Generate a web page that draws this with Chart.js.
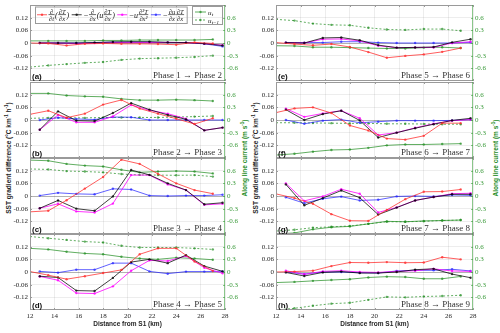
<!DOCTYPE html>
<html>
<head>
<meta charset="utf-8">
<script src="https://cdn.jsdelivr.net/npm/chart.js@4/dist/chart.umd.min.js"></script>
<style>
body { margin: 0; background: #fff; width: 500px; height: 333px; position: relative; overflow: hidden; }
canvas { position: absolute; }
.yt { position: absolute; font: bold 6.5px "Liberation Sans", Arial, sans-serif; white-space: nowrap; transform: translate(-50%, -50%) rotate(-90deg); color: #262626; }
.yt.g { color: #1e8c1e; }
.yt sup { font-size: 4.5px; }
</style>
</head>
<body>
<div class="yt" style="left:8px;top:158px">SST gradient difference (°C km<sup>-1</sup> h<sup>-1</sup>)</div>
<div class="yt g" style="left:244px;top:158px">Along line current (m s<sup>-1</sup>)</div>
<div class="yt" style="left:255px;top:158px">SST gradient difference (°C km<sup>-1</sup> h<sup>-1</sup>)</div>
<div class="yt g" style="left:495px;top:158px">Along line current (m s<sup>-1</sup>)</div>
<script>
// x positions (km) of the two sample grids
const xOuter = [12, 13.5, 15, 16.5, 18, 19.5, 21, 22.5, 24, 25.5, 27];
const xInner = [12.8, 14.3, 15.8, 17.3, 18.8, 20.3, 21.8, 23.3, 24.8, 26.3, 27.8];

const xTicks = [12, 14, 16, 18, 20, 22, 24, 26, 28];
const leftTicks = [-0.12, -0.06, 0, 0.06, 0.12];
const rightTicks = [-0.6, -0.3, 0, 0.3, 0.6];

const panelTags = ['(a)', '(b)', '(c)', '(d)', '(e)', '(f)', '(g)', '(h)'];
const phaseText = ['Phase 1 → Phase 2', 'Phase 2 → Phase 3', 'Phase 3 → Phase 4', 'Phase 4 → Phase 5',
                   'Phase 5 → Phase 6', 'Phase 6 → Phase 7', 'Phase 7 → Phase 8', 'Phase 8 → Phase 9'];

// d/dt(dT/dx)  (red, on xOuter)
const termTime = [
  [0, -0.002, -0.012, -0.004, -0.002, -0.004, -0.004, -0.005, -0.008, 0.003, -0.002],
  [0.027, 0.044, 0.011, 0.03, 0.073, 0.095, 0.054, 0.03, 0.006, -0.019, 0.008],
  [-0.075, -0.07, -0.02, 0.035, 0.09, 0.172, 0.152, 0.105, 0.06, 0.028, 0.011],
  [0.002, -0.015, -0.034, -0.02, -0.005, 0.01, 0.084, 0.112, 0.112, 0.05, 0.005],
  [0.002, -0.005, -0.011, -0.005, -0.019, -0.043, -0.07, -0.061, -0.054, -0.042, -0.024],
  [0.035, 0.055, 0.06, 0.033, -0.026, -0.05, -0.088, -0.093, -0.075, -0.015, -0.015],
  [0.01, -0.01, -0.037, -0.086, -0.117, -0.118, -0.066, -0.015, 0.02, 0.021, 0.031],
  [0, 0.002, 0.006, 0.028, 0.045, 0.044, 0.047, 0.044, 0.045, 0.07, 0.06]
];
// -d/dx(u dT/dx)  (black, on xInner)
const termAdv = [
  [0, 0, 0, 0.002, 0.005, 0.006, 0.006, 0.003, 0.002, -0.003, -0.012],
  [-0.046, 0.041, -0.003, -0.005, 0.033, 0.08, 0.049, 0.024, 0.003, -0.049, -0.036],
  [-0.058, -0.021, -0.06, -0.07, -0.002, 0.123, 0.1, 0.06, 0.028, -0.039, -0.032],
  [-0.02, -0.026, -0.088, -0.09, -0.028, 0.047, 0.06, 0.042, 0.08, 0.028, 0.003],
  [0.002, 0, 0.024, 0.026, 0.013, -0.01, -0.022, -0.021, -0.019, 0.003, 0.018],
  [0.049, 0, 0.028, 0.044, -0.002, -0.083, -0.06, -0.039, -0.02, -0.002, 0.008],
  [0.055, -0.044, -0.01, 0.026, -0.008, -0.088, -0.055, -0.021, -0.005, 0.008, 0.008],
  [-0.002, -0.019, -0.002, 0.002, -0.005, -0.005, 0, 0.011, 0.015, -0.01, -0.027]
];
// -u d2T/dx2  (magenta, on xInner)
const termU = [
  [0, 0, -0.003, 0, 0.002, 0.003, 0.002, 0.003, 0.002, -0.003, -0.01],
  [-0.046, 0.024, -0.011, -0.011, 0.017, 0.071, 0.046, 0.03, 0.006, -0.049, -0.036],
  [-0.058, -0.037, -0.073, -0.078, -0.036, 0.099, 0.099, 0.055, 0.028, -0.042, -0.037],
  [-0.021, -0.039, -0.1, -0.102, -0.068, 0.006, 0.055, 0.052, 0.076, 0.02, -0.006],
  [0.002, 0, 0.018, 0.019, 0.01, -0.013, -0.022, -0.021, -0.021, 0, 0.006],
  [0.054, 0.015, 0.031, 0.044, 0.008, -0.071, -0.06, -0.037, -0.018, -0.003, 0.002],
  [0.06, -0.023, -0.002, 0.032, 0.011, -0.078, -0.054, -0.021, -0.005, 0.011, 0.013],
  [0.006, -0.011, 0.003, 0.006, 0, -0.002, 0.003, 0.006, 0.015, 0.005, 0.003]
];
// -du/dx dT/dx  (blue, on xInner)
const termDiv = [
  [0, 0, 0, 0.002, 0.004, 0.004, 0.004, 0.002, 0.002, -0.004, -0.016],
  [0, 0.011, 0.005, 0.002, 0.014, 0.013, 0, 0, 0, 0, 0],
  [0.002, 0.015, 0.01, 0.008, 0.034, 0.031, 0.002, 0, 0.002, 0.002, 0.006],
  [0.003, -0.003, 0.011, 0.011, 0.042, 0.042, 0.003, -0.008, 0.002, 0.002, 0.003],
  [0.002, 0.002, 0.002, 0.006, 0.006, 0.002, 0, 0, 0, 0, 0.003],
  [0, -0.018, -0.003, 0.002, -0.013, -0.008, -0.003, -0.003, -0.003, -0.002, 0.002],
  [-0.006, -0.034, -0.013, -0.003, -0.021, -0.018, -0.002, 0, -0.002, 0.005, 0.003],
  [0, -0.01, 0, 0, -0.003, -0.005, 0.005, 0.008, 0.008, 0.013, 0.005]
];
// u_t and u_{t-1} (m/s, right axis, on xOuter)
const uNow = [
  [0.05, 0.05, 0.05, 0.05, 0.06, 0.06, 0.07, 0.07, 0.07, 0.07, 0.085],
  [0.63, 0.63, 0.58, 0.56, 0.55, 0.5, 0.47, 0.47, 0.48, 0.47, 0.45],
  [0.85, 0.835, 0.76, 0.72, 0.7, 0.62, 0.56, 0.58, 0.59, 0.58, 0.535],
  [0.56, 0.535, 0.48, 0.44, 0.42, 0.36, 0.32, 0.3, 0.34, 0.32, 0.29],
  [-0.065, -0.07, -0.1, -0.1, -0.11, -0.12, -0.13, -0.13, -0.11, -0.1, -0.12],
  [-0.83, -0.8, -0.75, -0.71, -0.7, -0.66, -0.6, -0.58, -0.58, -0.57, -0.56],
  [-0.9, -0.875, -0.79, -0.74, -0.72, -0.66, -0.6, -0.61, -0.59, -0.58, -0.57],
  [-0.25, -0.235, -0.21, -0.19, -0.17, -0.13, -0.11, -0.12, -0.16, -0.16, -0.105]
];
const uPrev = [
  [-0.57, -0.53, -0.5, -0.47, -0.45, -0.4, -0.37, -0.36, -0.35, -0.33, -0.3],
  [0.04, 0.05, 0.05, 0.05, 0.06, 0.06, 0.06, 0.06, 0.07, 0.08, 0.095],
  [0.64, 0.63, 0.59, 0.58, 0.56, 0.52, 0.5, 0.495, 0.49, 0.495, 0.46],
  [0.84, 0.8, 0.76, 0.72, 0.7, 0.62, 0.58, 0.58, 0.58, 0.56, 0.535],
  [0.56, 0.53, 0.46, 0.43, 0.42, 0.36, 0.32, 0.31, 0.33, 0.33, 0.29],
  [-0.065, -0.065, -0.07, -0.075, -0.08, -0.08, -0.09, -0.09, -0.095, -0.1, -0.1],
  [-0.83, -0.8, -0.75, -0.73, -0.71, -0.66, -0.61, -0.61, -0.6, -0.58, -0.57],
  [-0.9, -0.86, -0.8, -0.75, -0.73, -0.66, -0.59, -0.6, -0.58, -0.57, -0.55]
];

const RED = 'rgba(255,40,40,0.75)';
const BLACK = 'rgba(0,0,0,0.75)';
const MAG = 'rgba(255,0,255,0.8)';
const BLUE = 'rgba(30,30,255,0.7)';
const GREEN = 'rgba(30,140,30,0.7)';
const SERIF = '"Liberation Serif", "Times New Roman", serif';
const SANS = '"Liberation Sans", Arial, sans-serif';

const cols = [{left: 0, width: 250, axL: 30, axR: 25}, {left: 250, width: 250, axL: 26, axR: 27}];
const rowTops = [5, 82, 158, 234];
const plotH = 76;
const pad = 6;
const xAxisH = 18;

function series(xs, ys, color, axis, dash) {
  return {
    data: xs.map((x, k) => ({x: x, y: ys[k]})),
    borderColor: color, backgroundColor: color,
    borderWidth: 1, borderDash: dash || [],
    pointRadius: 1.2, pointBorderWidth: 0, pointHoverRadius: 0,
    yAxisID: axis, tension: 0
  };
}

// little fraction typesetter for the legend
function drawExpr(ctx, tokens, x, y) {
  let cx = x;
  ctx.textBaseline = 'alphabetic';
  for (const t of tokens) {
    if (Array.isArray(t)) {
      ctx.font = 'italic 6.5px ' + SERIF;
      const w = Math.max(ctx.measureText(t[0]).width, ctx.measureText(t[1]).width) + 1;
      ctx.textAlign = 'center';
      ctx.fillText(t[0], cx + w / 2, y - 1.2);
      ctx.fillText(t[1], cx + w / 2, y + 5.8);
      ctx.fillRect(cx, y - 0.3, w, 0.6);
      cx += w + 0.6;
    } else {
      ctx.font = 'italic 8px ' + SERIF;
      ctx.textAlign = 'left';
      ctx.fillText(t, cx, y + 2.8);
      cx += ctx.measureText(t).width + 0.4;
    }
  }
  return cx - x;
}

function sample(ctx, x, y, len, color, dash) {
  ctx.strokeStyle = color; ctx.fillStyle = color; ctx.lineWidth = 1;
  ctx.setLineDash(dash || []);
  ctx.beginPath(); ctx.moveTo(x, y); ctx.lineTo(x + len, y); ctx.stroke();
  ctx.setLineDash([]);
  ctx.beginPath(); ctx.arc(x + len / 2, y, 1.2, 0, Math.PI * 2); ctx.fill();
}

const legendTerms = [
  {color: RED, tokens: [['∂', '∂t'], '(', ['∂T', '∂x'], ')']},
  {color: BLACK, tokens: ['−', ['∂', '∂x'], '(u', ['∂T', '∂x'], ')']},
  {color: MAG, tokens: ['−u', ['∂²T', '∂x²']]},
  {color: BLUE, tokens: ['−', ['∂u', '∂x'], ['∂T', '∂x']]}
];

const panelBox = {
  id: 'panelBox',
  afterDraw(chart, args, o) {
    const {ctx, chartArea: a, scales} = chart;
    ctx.save();
    ctx.lineWidth = 1;
    // inward ticks
    ctx.strokeStyle = '#9a9a9a';
    ctx.beginPath();
    xTicks.forEach(v => {
      const px = Math.round(scales.x.getPixelForValue(v)) + 0.5;
      ctx.moveTo(px, a.top); ctx.lineTo(px, a.top + 2);
      ctx.moveTo(px, a.bottom); ctx.lineTo(px, a.bottom - 2);
    });
    leftTicks.forEach(v => {
      const py = Math.round(scales.y.getPixelForValue(v)) + 0.5;
      ctx.moveTo(a.left, py); ctx.lineTo(a.left + 2, py);
    });
    ctx.stroke();
    // box
    ctx.beginPath();
    ctx.moveTo(a.right, a.top + 0.5); ctx.lineTo(a.left + 0.5, a.top + 0.5);
    ctx.lineTo(a.left + 0.5, a.bottom - 0.5); ctx.lineTo(a.right, a.bottom - 0.5);
    ctx.stroke();
    ctx.strokeStyle = 'rgba(60,160,60,0.6)';
    ctx.beginPath();
    ctx.moveTo(a.right - 0.5, a.top); ctx.lineTo(a.right - 0.5, a.bottom);
    rightTicks.forEach(v => {
      const py = Math.round(scales.y1.getPixelForValue(v)) + 0.5;
      ctx.moveTo(a.right, py); ctx.lineTo(a.right - 2, py);
    });
    ctx.stroke();

    // panel tag and phase text
    ctx.fillStyle = '#111';
    ctx.textBaseline = 'alphabetic';
    ctx.textAlign = 'left';
    ctx.font = 'bold 8px ' + SANS;
    ctx.fillText(o.tag, a.left + 2, a.bottom - 2);
    ctx.textAlign = 'right';
    ctx.font = '9px ' + SERIF;
    ctx.fillStyle = '#333';
    ctx.fillText(o.phase, a.right - 3, a.bottom - 3.5);

    if (o.legend) {
      // terms legend
      const bx = a.left + 5, by = a.top + 1.5, bh = 16.5;
      let cx = bx + 2;
      const my = by + bh / 2;
      legendTerms.forEach(t => {
        sample(ctx, cx, my, 10, t.color);
        ctx.fillStyle = '#111';
        cx += 11.5;
        cx += drawExpr(ctx, t.tokens, cx, my) + 2;
      });
      ctx.strokeStyle = '#9a9a9a';
      ctx.strokeRect(bx + 0.5, by + 0.5, cx - bx, bh);
      // current legend
      const gx = a.right - 33, gy = a.top + 1, gw = 30, gh = 18;
      ctx.strokeRect(gx + 0.5, gy + 0.5, gw, gh);
      sample(ctx, gx + 3, gy + 6, 11, GREEN);
      sample(ctx, gx + 3, gy + 14, 11, GREEN, [2, 2]);
      ctx.fillStyle = '#111';
      ctx.textAlign = 'left';
      ctx.font = 'italic 7px ' + SERIF;
      ctx.fillText('u', gx + 16, gy + 8.5);
      ctx.fillText('u', gx + 16, gy + 16.5);
      ctx.font = 'italic 5px ' + SERIF;
      ctx.fillText('t', gx + 19.7, gy + 10);
      ctx.fillText('t−1', gx + 19.7, gy + 18);
    }
    ctx.restore();
  }
};

for (let i = 0; i < 8; i++) {
  const col = cols[i < 4 ? 0 : 1];
  const row = i % 4;
  const last = row === 3;
  const cv = document.createElement('canvas');
  const h = pad + plotH + (last ? xAxisH : pad);
  cv.width = col.width;
  cv.height = h;
  cv.style.width = col.width + 'px';
  cv.style.height = h + 'px';
  cv.style.left = col.left + 'px';
  cv.style.top = (rowTops[row] - pad) + 'px';
  document.body.appendChild(cv);

  new Chart(cv, {
    type: 'line',
    data: {
      datasets: [
        series(xOuter, termTime[i], RED, 'y'),
        series(xInner, termAdv[i], BLACK, 'y'),
        series(xInner, termU[i], MAG, 'y'),
        series(xInner, termDiv[i], BLUE, 'y'),
        series(xOuter, uNow[i], GREEN, 'y1'),
        series(xOuter, uPrev[i], GREEN, 'y1', [2, 2])
      ]
    },
    options: {
      responsive: false,
      animation: false,
      events: [],
      layout: {autoPadding: false, padding: {top: pad, bottom: last ? 0 : pad, left: 0, right: 0}},
      plugins: {
        legend: {display: false},
        tooltip: {enabled: false},
        panelBox: {tag: panelTags[i], phase: phaseText[i], legend: i === 0}
      },
      scales: {
        x: {
          type: 'linear', min: 12, max: 28,
          afterBuildTicks: s => { s.ticks = xTicks.map(v => ({value: v})); },
          afterFit: s => { s.height = last ? xAxisH : 0; s.paddingLeft = 0; s.paddingRight = 0; },
          ticks: {display: last, padding: 2, color: '#262626', font: {family: SERIF, size: 7}},
          grid: {color: 'rgba(0,0,0,0.07)', drawTicks: false},
          border: {display: false},
          title: {display: last, text: 'Distance from S1 (km)', color: '#262626', padding: 0,
                  font: {family: SANS, size: 6.5, weight: 'bold'}}
        },
        y: {
          position: 'left', min: -0.18, max: 0.18,
          afterBuildTicks: s => { s.ticks = leftTicks.map(v => ({value: v})); },
          afterFit: s => { s.width = col.axL; s.paddingTop = 0; s.paddingBottom = 0; },
          ticks: {padding: 2, color: '#262626', font: {family: SERIF, size: 7},
                  callback: v => v === 0 ? '0' : v.toFixed(2)},
          grid: {color: c => c.tick && c.tick.value === 0 ? 'rgba(0,0,0,0.3)' : 'rgba(0,0,0,0.07)', drawTicks: false},
          border: {display: false}
        },
        y1: {
          position: 'right', min: -0.9, max: 0.9,
          afterBuildTicks: s => { s.ticks = rightTicks.map(v => ({value: v})); },
          afterFit: s => { s.width = col.axR; s.paddingTop = 0; s.paddingBottom = 0; },
          ticks: {padding: 2, color: '#3a9a3a', font: {family: SERIF, size: 7},
                  callback: v => v === 0 ? '0' : v.toFixed(1)},
          grid: {drawOnChartArea: false, drawTicks: false},
          border: {display: false}
        }
      }
    },
    plugins: [panelBox]
  });
}
</script>
</body>
</html>
